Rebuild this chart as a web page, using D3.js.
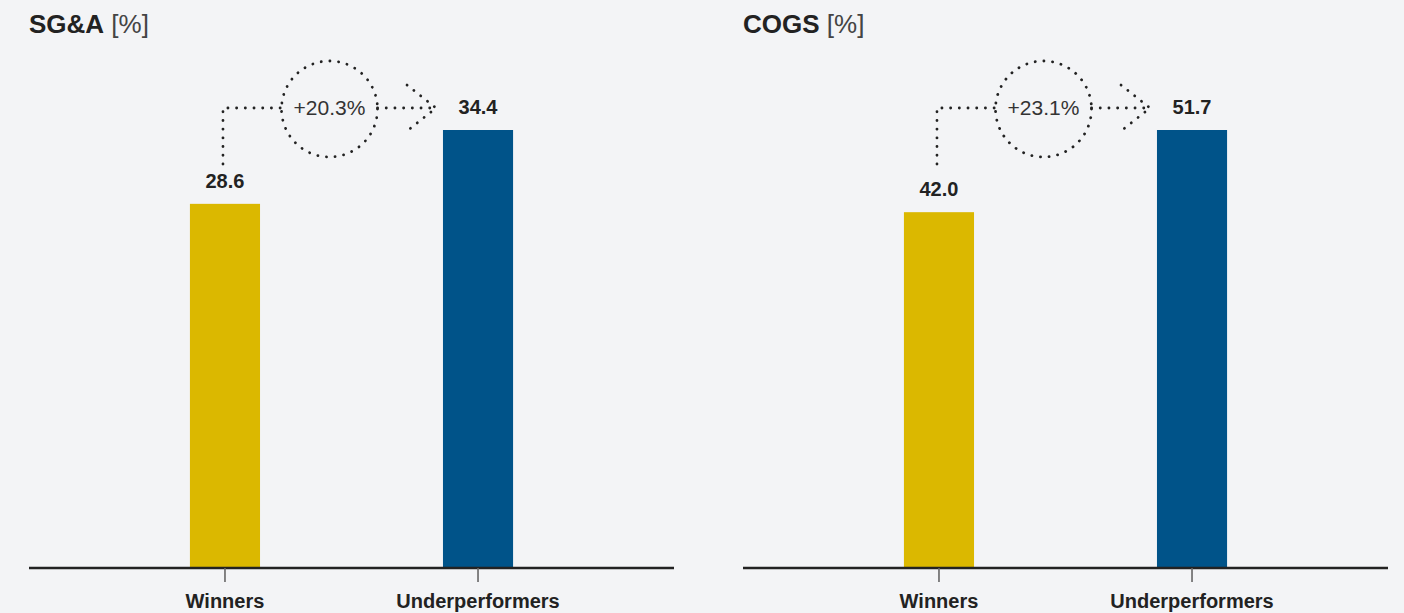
<!DOCTYPE html>
<html>
<head>
<meta charset="utf-8">
<script src="https://cdn.jsdelivr.net/npm/d3@7"></script>
<style>
  html, body { margin: 0; padding: 0; background: #f3f4f6; }
  svg { display: block; font-family: "Liberation Sans", Arial, Helvetica, sans-serif; }
</style>
</head>
<body>
<div id="chart"></div>
<script>
// data
var categories = ["Winners", "Underperformers"];
var panelTitles = ["SG&A", "COGS"];
var panelUnits = ["[%]", "[%]"];
var sgaValues = [28.6, 34.4];
var cogsValues = [42.0, 51.7];
var barColors = ["#dbb800", "#005389"];

var panels = [
    {title: panelTitles[0], unit: panelUnits[0], values: sgaValues},
    {title: panelTitles[1], unit: panelUnits[1], values: cogsValues}
];

var width = 1404, height = 613;
var svg = d3.select("#chart")
    .append("svg")
        .attr("width", width)
        .attr("height", height);

var panelWidth = 645, panelStep = 714, left0 = 29;
var baseY = 568, topY = 130;
var dotted = "0.1 8.6";

panels.forEach(function(p, i) {
    var g = svg.append("g")
        .attr("transform", "translate(" + (left0 + i * panelStep) + ",0)");

    var x = d3.scaleBand()
        .domain(categories)
        .range([0, panelWidth])
        .paddingInner(0.723)
        .paddingOuter(0.636);

    var y = d3.scaleLinear()
        .domain([0, d3.max(p.values)])
        .range([baseY, topY]);

    // title
    var t = g.append("text")
        .attr("x", 0)
        .attr("y", 33)
        .attr("font-size", 26)
        .attr("fill", "#222");
    t.append("tspan").attr("font-weight", "bold").text(p.title);
    t.append("tspan").attr("fill", "#444").text(" " + p.unit);

    // bars
    g.selectAll("rect.bar")
        .data(p.values)
        .join("rect")
            .attr("class", "bar")
            .attr("x", (d, j) => x(categories[j]))
            .attr("y", d => y(d))
            .attr("width", x.bandwidth())
            .attr("height", d => baseY - y(d))
            .attr("fill", (d, j) => barColors[j]);

    // value labels
    g.selectAll("text.val")
        .data(p.values)
        .join("text")
            .attr("class", "val")
            .attr("x", (d, j) => x(categories[j]) + x.bandwidth() / 2)
            .attr("y", d => y(d) - 16)
            .attr("text-anchor", "middle")
            .attr("font-size", 20)
            .attr("font-weight", "bold")
            .attr("fill", "#222")
            .text(d => d3.format(".1f")(d));

    // x axis
    var axis = g.append("g")
        .attr("transform", "translate(0," + baseY + ")")
        .call(d3.axisBottom(x).tickSize(14).tickPadding(12));
    axis.select(".domain")
        .attr("d", "M0,0H" + panelWidth)
        .attr("stroke", "#222")
        .attr("stroke-width", 2.6);
    axis.selectAll(".tick line")
        .attr("stroke", "#666")
        .attr("stroke-width", 1.6);
    axis.selectAll(".tick text")
        .attr("font-size", 20)
        .attr("font-weight", "bold")
        .attr("fill", "#222")
        .attr("font-family", "'Liberation Sans', Arial, sans-serif");

    // change annotation
    var vx = x(categories[0]) + x.bandwidth() / 2 - 2;
    var tip = x(categories[1]) + x.bandwidth() / 2 - 42;
    var ly = y(d3.max(p.values)) - 22;
    var cx = (vx + tip) / 2, r = 48;
    var change = p.values[1] / p.values[0] - 1;

    var ann = g.append("g")
        .attr("fill", "none")
        .attr("stroke", "#222")
        .attr("stroke-width", 2.8)
        .attr("stroke-linecap", "round")
        .attr("stroke-dasharray", dotted);

    ann.append("path")
        .attr("d", "M" + vx + "," + (topY + 34) + "V" + ly + "H" + (cx - r));
    ann.append("circle")
        .attr("cx", cx)
        .attr("cy", ly + 1)
        .attr("r", r);
    ann.append("path")
        .attr("d", "M" + (cx + r) + "," + ly + "H" + tip);
    ann.append("path")
        .attr("d", "M" + (tip - 29) + "," + (ly - 23) + "L" + tip + "," + ly + "L" + (tip - 29) + "," + (ly + 23));

    g.append("text")
        .attr("x", cx)
        .attr("y", ly + 7)
        .attr("text-anchor", "middle")
        .attr("font-size", 21)
        .attr("fill", "#333")
        .text("+" + d3.format(".1%")(change));
});
</script>
</body>
</html>
